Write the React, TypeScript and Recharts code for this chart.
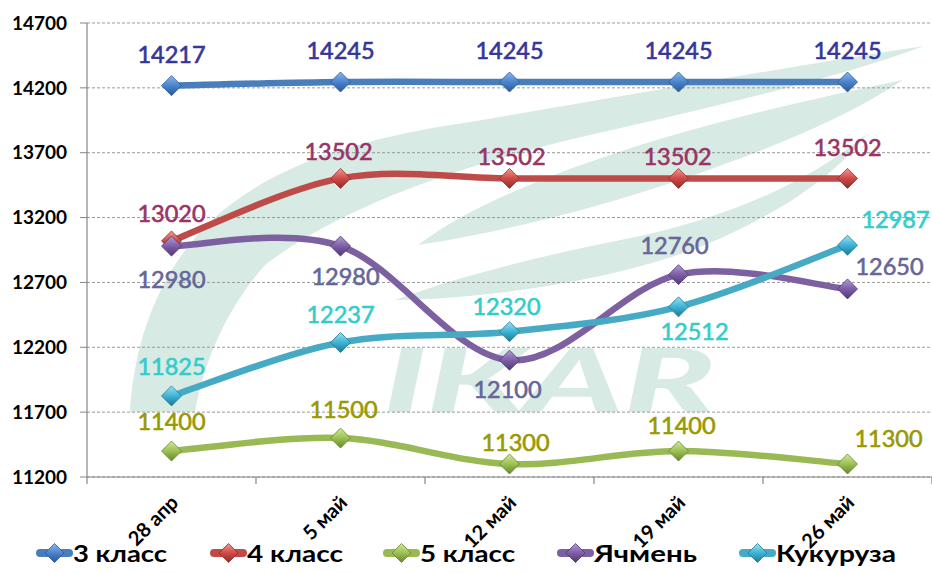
import React from 'react';
import { LineChart, Line, XAxis, YAxis, CartesianGrid, Legend, LabelList } from 'recharts';

const categories = ['28 апр', '5 май', '12 май', '19 май', '26 май'];
const class3 = [14217, 14245, 14245, 14245, 14245];
const class4 = [13020, 13502, 13502, 13502, 13502];
const class5 = [11400, 11500, 11300, 11400, 11300];
const barley = [12980, 12980, 12100, 12760, 12650];
const corn = [11825, 12237, 12320, 12512, 12987];
const seriesNames = ['3 класс', '4 класс', '5 класс', 'Ячмень', 'Кукуруза'];
const yTicks = [11200, 11700, 12200, 12700, 13200, 13700, 14200, 14700];

const seriesValues = [class3, class4, class5, barley, corn];
const data = categories.map((c, i) => {
  const row: any = { cat: c };
  seriesValues.forEach((arr, s) => { row['s' + s] = arr[i]; });
  return row;
});

// styles
const lineColors = ['#4a7ebb', '#be4b48', '#98b954', '#7d60a0', '#46aac5'];
const labelColors = ['#35359a', '#993366', '#999900', '#666699', '#33cccc'];
const markerGrad = [
  ['#8ab8ee', '#4a84cc', '#2a5894'],
  ['#f29893', '#d04a45', '#8e2c28'],
  ['#d2e99a', '#9bc152', '#66852e'],
  ['#b39bd6', '#7e5ea8', '#4f3772'],
  ['#9be2f3', '#3fb3d6', '#1f7893'],
];
// label offsets [dx, dy(baseline)] per series, per point
const labelOffsets = [
  [[0, -23], [0, -23], [0, -23], [0, -23], [0, -23]],
  [[0, -19], [-2, -18], [2, -13], [-1, -13], [0, -22]],
  [[0, -21], [3, -20], [6, -13], [3, -17], [41, -17]],
  [[0, 42], [5, 39], [-2, 38], [-4, -21], [42, -14]],
  [[0, -21], [0, -19], [-3, -17], [16, 33], [48, -17]],
];
// legend layout: item start x and text width
const legendStart = [36, 210, 383, 557, 739];
const legendTextWidth = [94, 96, 95, 103, 120];

const FONT = 'Lato, "Open Sans", sans-serif';
const HALF_BAND = 84.5;

function excelSmooth(context: any) {
  let pts: number[][] = [];
  return {
    areaStart() {},
    areaEnd() {},
    lineStart() { pts = []; },
    lineEnd() {
      const n = pts.length;
      if (!n) return;
      context.moveTo(pts[0][0], pts[0][1]);
      for (let i = 0; i < n - 1; i++) {
        const p0 = pts[Math.max(0, i - 1)];
        const p1 = pts[i];
        const p2 = pts[i + 1];
        const p3 = pts[Math.min(n - 1, i + 2)];
        context.bezierCurveTo(
          p1[0] + (p2[0] - p0[0]) / 6, p1[1] + (p2[1] - p0[1]) / 6,
          p2[0] - (p3[0] - p1[0]) / 6, p2[1] - (p3[1] - p1[1]) / 6,
          p2[0], p2[1]
        );
      }
    },
    point(x: number, y: number) { pts.push([+x, +y]); },
  };
}

const makeDot = (s: number) => (props: any) => {
  const { cx, cy, index } = props;
  if (cx == null || cy == null) return <g key={`d${s}-${index}`} />;
  const r = 10;
  return (
    <polygon
      key={`d${s}-${index}`}
      points={`${cx},${cy - r} ${cx + r},${cy} ${cx},${cy + r} ${cx - r},${cy}`}
      fill={`url(#mg${s})`}
      stroke={markerGrad[s][2]}
      strokeWidth={0.8}
    />
  );
};

const makeLabel = (s: number) => (props: any) => {
  const { x, y, value, index } = props;
  const off = labelOffsets[s][index] || [0, -20];
  return (
    <text
      key={`l${s}-${index}`}
      x={x + off[0]}
      y={y + off[1]}
      textAnchor="middle"
      fontFamily={FONT}
      fontSize={23.5}
      fill={labelColors[s]}
      stroke={labelColors[s]}
      strokeWidth={0.6}
    >
      {value}
    </text>
  );
};

const XTick = (props: any) => {
  const { x, y, payload, index, visibleTicksCount } = props;
  const last = index === (visibleTicksCount ?? categories.length) - 1;
  return (
    <g>
      <line x1={x - HALF_BAND} y1={y} x2={x - HALF_BAND} y2={y + 7} stroke="#868686" strokeWidth={1.2} />
      {last && <line x1={x + HALF_BAND} y1={y} x2={x + HALF_BAND} y2={y + 7} stroke="#868686" strokeWidth={1.2} />}
      <text
        transform={`translate(${x + 8},${y + 27}) rotate(-45)`}
        textAnchor="end"
        fontFamily={FONT}
        fontWeight={700}
        fontSize={20}
        fill="#000"
      >
        {payload.value}
      </text>
    </g>
  );
};

const LegendContent = () => (
  <svg width={932} height={40} style={{ display: 'block' }}>
    {seriesNames.map((name, s) => {
      const x0 = legendStart[s];
      return (
        <g key={name}>
          <line x1={x0 + 4} y1={20} x2={x0 + 33} y2={20} stroke={lineColors[s]} strokeWidth={8} strokeLinecap="round" />
          <polygon
            points={`${x0 + 18.5},${10.5} ${x0 + 28},${20} ${x0 + 18.5},${29.5} ${x0 + 9},${20}`}
            fill={`url(#mg${s})`}
            stroke={markerGrad[s][2]}
            strokeWidth={0.8}
          />
          <text
            x={x0 + 37}
            y={29}
            textLength={legendTextWidth[s]}
            lengthAdjust="spacingAndGlyphs"
            fontFamily={FONT}
            fontWeight={700}
            fontSize={23}
            fill="#000"
          >
            {name}
          </text>
        </g>
      );
    })}
  </svg>
);

const Watermark = () => (
  <svg width={932} height={573} style={{ position: 'absolute', left: 0, top: 0 }}>
    <g fill="#d7eae3">
      <path d="M130,412 C134,340 160,270 210,222 C270,165 360,138 470,122 C600,100 780,68 924,46 C833,80 700,110 560,142 C430,175 330,215 265,265 C225,310 203,365 195,412 Z" />
      <path d="M418,245 C470,205 560,170 650,142 C740,115 830,95 903,80 C840,122 760,152 680,180 C600,207 500,233 418,245 Z" />
      <path d="M395,300 C470,272 560,252 640,236 C730,216 810,182 868,133 C830,182 770,218 700,247 C620,278 500,298 395,300 Z" />
    </g>
    <text
      x={383}
      y={412}
      textLength={332}
      lengthAdjust="spacingAndGlyphs"
      fontFamily={FONT}
      fontWeight={900}
      fontStyle="italic"
      fontSize={88}
      fill="#d7eae3"
    >
      IKAR
    </text>
  </svg>
);

export default function App() {
  return (
    <div style={{ position: 'absolute', left: 0, top: 0, width: 932, height: 573, background: '#fff' }}>
      <Watermark />
      <div style={{ position: 'absolute', left: 0, top: 0 }}>
        <LineChart width={932} height={573} data={data} margin={{ top: 23, right: 0, left: 0, bottom: 0 }}>
          <defs>
            {markerGrad.map((g, s) => (
              <linearGradient key={s} id={`mg${s}`} x1="0" y1="0" x2="0" y2="1">
                <stop offset="0%" stopColor={g[0]} />
                <stop offset="50%" stopColor={g[1]} />
                <stop offset="100%" stopColor={g[2]} />
              </linearGradient>
            ))}
          </defs>
          <CartesianGrid vertical={false} stroke="#9a9a9a" strokeDasharray="3 2" />
          <XAxis
            dataKey="cat"
            height={56}
            padding={{ left: HALF_BAND, right: HALF_BAND }}
            tickSize={0}
            tickMargin={0}
            tickLine={false}
            axisLine={{ stroke: '#868686', strokeWidth: 1.2 }}
            tick={<XTick />}
            interval={0}
          />
          <YAxis
            width={87}
            domain={[11200, 14700]}
            ticks={yTicks}
            tickSize={7}
            tickMargin={13}
            axisLine={{ stroke: '#868686', strokeWidth: 1.2 }}
            tickLine={{ stroke: '#868686' }}
            tick={{ fontFamily: FONT, fontWeight: 700, fontSize: 19, fill: '#000' }}
          />
          <Legend
            verticalAlign="bottom"
            height={40}
            wrapperStyle={{ left: 0, width: 932 }}
            content={<LegendContent />}
          />
          {seriesNames.map((name, s) => (
            <Line
              key={name}
              name={name}
              dataKey={'s' + s}
              type={excelSmooth as any}
              stroke={lineColors[s]}
              strokeWidth={6.5}
              dot={makeDot(s)}
              activeDot={false}
              isAnimationActive={false}
            >
              <LabelList dataKey={'s' + s} content={makeLabel(s)} />
            </Line>
          ))}
        </LineChart>
      </div>
    </div>
  );
}
